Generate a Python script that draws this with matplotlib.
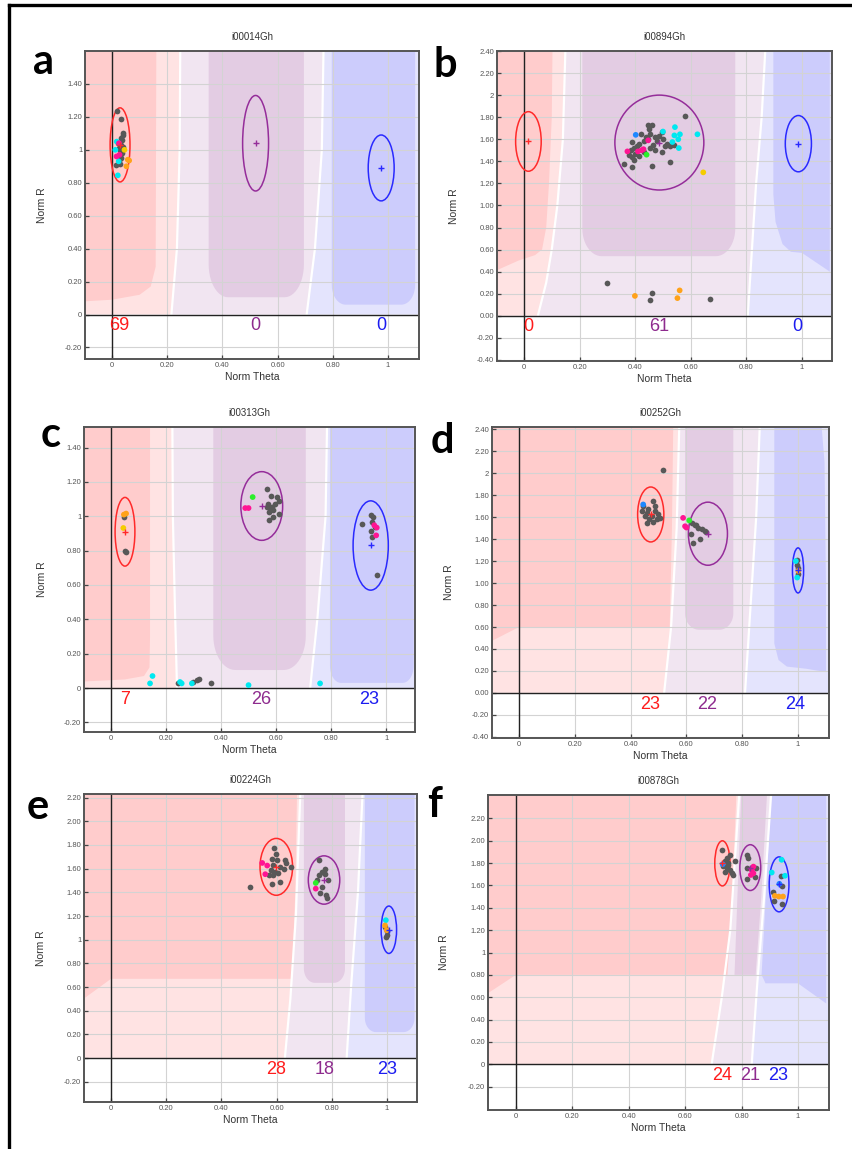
import numpy as np
import matplotlib
matplotlib.use("Agg")
import matplotlib.pyplot as plt
from matplotlib.patches import Polygon, Ellipse
from matplotlib.lines import Line2D

plt.rcParams['font.family'] = ['Liberation Sans', 'DejaVu Sans']

# ---------------- data ----------------
letters = ['a', 'b', 'c', 'd', 'e', 'f']
titles = ['i00014Gh', 'i00894Gh', 'i00313Gh', 'i00252Gh', 'i00224Gh', 'i00878Gh']

# cluster centres (theta, R) and half widths for AA / AB / BB
a_ell = [(0.029, 1.03, 0.036, 0.225), (0.52, 1.04, 0.047, 0.29), (0.975, 0.89, 0.047, 0.20)]
b_ell = [(0.016, 1.58, 0.046, 0.27), (0.487, 1.57, 0.16, 0.43), (0.987, 1.56, 0.047, 0.255)]
c_ell = [(0.051, 0.91, 0.036, 0.20), (0.548, 1.06, 0.076, 0.20), (0.944, 0.83, 0.064, 0.26)]
d_ell = [(0.472, 1.624, 0.047, 0.25), (0.677, 1.449, 0.07, 0.287), (1.0, 1.115, 0.02, 0.205)]
e_ell = [(0.599, 1.615, 0.059, 0.24), (0.772, 1.504, 0.057, 0.204), (1.007, 1.084, 0.028, 0.20)]
f_ell = [(0.732, 1.798, 0.027, 0.202), (0.831, 1.76, 0.037, 0.205), (0.933, 1.61, 0.035, 0.246)]

a_counts = [69, 0, 0]
b_counts = [0, 61, 0]
c_counts = [7, 26, 23]
d_counts = [23, 22, 24]
e_counts = [28, 18, 23]
f_counts = [24, 21, 23]
a_count_x = [0.025, 0.52, 0.975]
b_count_x = [0.015, 0.485, 0.985]
c_count_x = [0.05, 0.545, 0.94]
d_count_x = [0.47, 0.675, 0.99]
e_count_x = [0.60, 0.775, 1.0]
f_count_x = [0.732, 0.83, 0.93]

# grey samples
a_gray = [(0.019, 1.238), (0.034, 1.19), (0.040, 1.10), (0.038, 1.09), (0.031, 1.07), (0.036, 1.06),
          (0.022, 1.04), (0.033, 1.03), (0.024, 1.01), (0.030, 1.00), (0.036, 0.98), (0.027, 0.96),
          (0.033, 0.95), (0.025, 0.93), (0.016, 0.91), (0.030, 0.915), (0.040, 1.02)]
b_gray = [(0.580, 1.81), (0.387, 1.575), (0.447, 1.73), (0.462, 1.73), (0.420, 1.65), (0.455, 1.65),
          (0.440, 1.62), (0.445, 1.60), (0.430, 1.58), (0.415, 1.56), (0.405, 1.54), (0.395, 1.52),
          (0.385, 1.50), (0.400, 1.47), (0.390, 1.44), (0.395, 1.41), (0.378, 1.46), (0.361, 1.373),
          (0.390, 1.35), (0.460, 1.36), (0.525, 1.39), (0.484, 1.63), (0.495, 1.48), (0.507, 1.54),
          (0.525, 1.54), (0.495, 1.67), (0.470, 1.62), (0.480, 1.58), (0.465, 1.55), (0.455, 1.52),
          (0.470, 1.50), (0.500, 1.60), (0.515, 1.56), (0.430, 1.48), (0.412, 1.45), (0.450, 1.69),
          (0.540, 1.55), (0.300, 0.30), (0.460, 0.21), (0.453, 0.14), (0.668, 0.155)]
c_gray = [(0.047, 0.997), (0.055, 0.793), (0.052, 0.80), (0.566, 1.16), (0.581, 1.12), (0.603, 1.11),
          (0.609, 1.09), (0.572, 1.07), (0.584, 1.057), (0.590, 1.038), (0.576, 1.025), (0.609, 1.015),
          (0.588, 0.997), (0.576, 0.976), (0.596, 1.07), (0.566, 1.054), (0.580, 1.04), (0.912, 0.953),
          (0.944, 1.01), (0.951, 0.997), (0.948, 0.968), (0.960, 0.94), (0.944, 0.912), (0.948, 0.882),
          (0.966, 0.657), (0.242, 0.027), (0.299, 0.036), (0.311, 0.049), (0.320, 0.055), (0.364, 0.027)]
d_gray = [(0.515, 2.025), (0.445, 1.70), (0.481, 1.75), (0.463, 1.67), (0.487, 1.66), (0.499, 1.63),
          (0.451, 1.61), (0.475, 1.61), (0.493, 1.58), (0.457, 1.55), (0.479, 1.553), (0.505, 1.59),
          (0.439, 1.655), (0.466, 1.58), (0.487, 1.70), (0.460, 1.64), (0.620, 1.55), (0.631, 1.524),
          (0.643, 1.50), (0.655, 1.488), (0.667, 1.47), (0.617, 1.45), (0.625, 1.365), (0.647, 1.40),
          (0.670, 1.46), (0.636, 1.53), (0.995, 1.213), (1.001, 1.14), (0.999, 1.079), (0.997, 1.16)]
e_gray = [(0.591, 1.778), (0.598, 1.727), (0.582, 1.685), (0.600, 1.67), (0.630, 1.67), (0.634, 1.65),
          (0.651, 1.616), (0.627, 1.594), (0.612, 1.617), (0.588, 1.628), (0.578, 1.587), (0.594, 1.573),
          (0.574, 1.545), (0.612, 1.487), (0.582, 1.474), (0.504, 1.445), (0.588, 1.545), (0.606, 1.56),
          (0.755, 1.676), (0.776, 1.60), (0.765, 1.572), (0.753, 1.544), (0.776, 1.558), (0.788, 1.502),
          (0.765, 1.446), (0.757, 1.395), (0.778, 1.375), (0.783, 1.355), (0.748, 1.506),
          (0.993, 1.107), (0.999, 1.07), (1.001, 1.04), (0.997, 1.02)]
f_gray = [(0.729, 1.919), (0.759, 1.875), (0.747, 1.845), (0.741, 1.815), (0.753, 1.80), (0.776, 1.815),
          (0.735, 1.77), (0.747, 1.754), (0.759, 1.739), (0.765, 1.709), (0.741, 1.724), (0.771, 1.694),
          (0.753, 1.785), (0.821, 1.874), (0.823, 1.844), (0.818, 1.754), (0.821, 1.656), (0.848, 1.68),
          (0.851, 1.754), (0.940, 1.687), (0.942, 1.597), (0.912, 1.546), (0.915, 1.462), (0.943, 1.432)]

# coloured samples (theta, R, colour)
a_col = [(0.017, 1.05, 'cyan'), (0.012, 1.00, 'cyan'), (0.024, 0.93, 'cyan'), (0.021, 0.845, 'cyan'),
         (0.025, 1.04, 'pink'), (0.016, 0.96, 'pink'), (0.027, 0.97, 'pink'),
         (0.062, 0.935, 'orange'), (0.052, 0.90, 'orange'), (0.057, 0.94, 'orange'), (0.045, 1.00, 'gold')]
b_col = [(0.500, 1.67, 'cyan'), (0.543, 1.71, 'cyan'), (0.541, 1.635, 'cyan'), (0.561, 1.645, 'cyan'),
         (0.555, 1.60, 'cyan'), (0.534, 1.575, 'cyan'), (0.557, 1.52, 'cyan'), (0.624, 1.645, 'cyan'),
         (0.402, 1.64, 'blue'), (0.372, 1.49, 'pink'), (0.410, 1.49, 'pink'), (0.423, 1.50, 'pink'),
         (0.447, 1.59, 'pink'), (0.430, 1.51, 'pink'), (0.441, 1.46, 'green'), (0.645, 1.30, 'gold'),
         (0.399, 0.18, 'orange'), (0.560, 0.23, 'orange'), (0.552, 0.16, 'orange')]
c_col = [(0.055, 1.016, 'orange'), (0.047, 1.01, 'orange'), (0.045, 0.932, 'gold'),
         (0.515, 1.112, 'green'), (0.488, 1.048, 'pink'), (0.500, 1.048, 'pink'),
         (0.957, 0.948, 'pink'), (0.966, 0.934, 'pink'), (0.964, 0.889, 'pink'),
         (0.151, 0.07, 'cyan'), (0.142, 0.027, 'cyan'), (0.251, 0.035, 'cyan'), (0.257, 0.027, 'cyan'),
         (0.294, 0.027, 'cyan'), (0.500, 0.017, 'cyan'), (0.760, 0.027, 'cyan')]
d_col = [(0.445, 1.715, 'blue'), (0.588, 1.593, 'pink'), (0.595, 1.517, 'pink'), (0.600, 1.505, 'pink'),
         (0.610, 1.57, 'green'), (0.992, 1.20, 'cyan'), (0.997, 1.05, 'cyan'), (1.001, 1.11, 'orange')]
e_col = [(0.548, 1.648, 'pink'), (0.566, 1.626, 'pink'), (0.559, 1.553, 'pink'),
         (0.742, 1.479, 'green'), (0.742, 1.431, 'pink'),
         (0.996, 1.165, 'cyan'), (0.993, 1.12, 'orange'), (0.999, 1.08, 'orange')]
f_col = [(0.733, 1.79, 'blue'), (0.842, 1.769, 'pink'), (0.836, 1.739, 'pink'), (0.842, 1.709, 'pink'),
         (0.833, 1.694, 'pink'), (0.942, 1.83, 'cyan'), (0.907, 1.716, 'cyan'), (0.954, 1.687, 'cyan'),
         (0.934, 1.615, 'blue'), (0.918, 1.507, 'orange'), (0.932, 1.501, 'orange'), (0.947, 1.501, 'orange')]

# genotype zone borders (bottom to top) and dark cluster regions
a_b1 = [(0.215, 0), (0.235, 0.4), (0.245, 1.0), (0.25, 2.5)]
a_b2 = [(0.705, 0), (0.735, 0.4), (0.76, 1.0), (0.775, 2.5)]
b_b1 = [(0.05, 0), (0.08, 0.3), (0.10, 0.6), (0.12, 1.0), (0.14, 1.6), (0.15, 2.5)]
b_b2 = [(0.805, 0), (0.82, 0.6), (0.835, 1.2), (0.855, 1.8), (0.87, 2.5)]
c_b1 = [(0.24, 0), (0.232, 0.5), (0.225, 1.0), (0.22, 2.5)]
c_b2 = [(0.724, 0), (0.75, 0.4), (0.78, 1.0), (0.795, 2.5)]
d_b1 = [(0.52, 0), (0.545, 0.6), (0.565, 1.5), (0.575, 2.5)]
d_b2 = [(0.81, 0), (0.83, 0.8), (0.85, 1.6), (0.864, 2.5)]
e_b1 = [(0.63, 0), (0.65, 0.5), (0.67, 1.2), (0.69, 2.5)]
e_b2 = [(0.854, 0), (0.87, 0.6), (0.895, 1.4), (0.917, 2.5)]
f_b1 = [(0.694, 0), (0.73, 0.6), (0.76, 1.2), (0.794, 2.5)]
f_b2 = [(0.836, 0), (0.855, 0.7), (0.88, 1.5), (0.907, 2.5)]

a_red = [(-0.2, 0.07), (0.0, 0.09), (0.10, 0.12), (0.14, 0.17), (0.158, 0.29), (0.162, 2.5), (-0.2, 2.5)]
b_red = [(-0.2, 0.35), (-0.1, 0.41), (-0.02, 0.50), (0.04, 0.55), (0.065, 0.6), (0.08, 0.8), (0.09, 1.2),
         (0.10, 1.8), (0.103, 2.5), (-0.2, 2.5)]
c_red = [(-0.2, 0.03), (0.05, 0.05), (0.12, 0.07), (0.14, 0.12), (0.142, 0.3), (0.142, 2.5), (-0.2, 2.5)]
d_red = [(-0.2, 0.40), (-0.1, 0.47), (0.0, 0.6), (0.54, 0.6), (0.548, 1.5), (0.553, 2.5), (-0.2, 2.5)]
e_red = [(-0.2, 0.42), (-0.1, 0.5), (0.0, 0.67), (0.655, 0.67), (0.668, 1.4), (0.676, 2.5), (-0.2, 2.5)]
f_red = [(-0.2, 0.55), (-0.1, 0.634), (0.0, 0.8), (0.75, 0.8), (0.765, 1.4), (0.783, 2.5), (-0.2, 2.5)]

a_pur = (0.35, 0.695, 0.105, 0.07, 0.2)
b_pur = (0.21, 0.76, 0.54, 0.07, 0.25)
c_pur = (0.372, 0.708, 0.105, 0.08, 0.2)
d_pur = (0.595, 0.768, 0.575, 0.05, 0.15)
e_pur = (0.699, 0.848, 0.636, 0.04, 0.12)
f_pur = [(0.80, 2.5), (0.775, 0.8), (0.85, 0.8), (0.87, 1.5), (0.892, 2.5)]

a_blu = (0.796, 1.098, 0.06, 0.05, 0.12)
b_blu = [(0.897, 2.5), (0.897, 1.1), (0.905, 0.85), (0.93, 0.65), (0.96, 0.58), (1.0, 0.57),
         (1.1, 0.40), (1.1, 2.5)]
c_blu = (0.796, 1.1, 0.03, 0.04, 0.1)
d_blu = [(0.915, 2.5), (0.915, 0.45), (0.93, 0.3), (0.96, 0.24), (1.03, 0.22), (1.1, 0.19),
         (1.1, 1.0), (1.095, 2.1), (1.082, 2.5)]
e_blu = (0.92, 1.1, 0.22, 0.04, 0.12)
f_blu = [(0.907, 2.5), (0.871, 0.8), (0.885, 0.724), (1.0, 0.724), (1.1, 0.544), (1.1, 2.5)]

# axes limits and y tick labels
xlims = [(-0.098, 1.112), (-0.097, 1.108), (-0.098, 1.105), (-0.097, 1.111), (-0.098, 1.109), (-0.099, 1.11)]
ylims = [(-0.27, 1.60), (-0.41, 2.40), (-0.256, 1.52), (-0.41, 2.42), (-0.37, 2.23), (-0.41, 2.41)]
a_yt = ['1.40', '1.20', '1', '0.80', '0.60', '0.40', '0.20', '0', '-0.20']
b_yt = ['2.40', '2.20', '2', '1.80', '1.60', '1.40', '1.20', '1.00', '0.80', '0.60', '0.40', '0.20',
        '0.00', '-0.20', '-0.40']
c_yt = a_yt
d_yt = b_yt
e_yt = ['2.20', '2.00', '1.80', '1.60', '1.40', '1.20', '1', '0.80', '0.60', '0.40', '0.20', '0', '-0.20']
f_yt = e_yt
x_ticks = [0, 0.2, 0.4, 0.6, 0.8, 1]
x_tick_labels = ['0', '0.20', '0.40', '0.60', '0.80', '1']

# ---------------- styles ----------------
W, H = 852, 1149
boxes = [(85, 419, 51, 359), (497, 832, 51, 361), (84, 415, 427, 732),
         (492, 829, 427, 738), (84, 417, 794, 1102), (488, 829, 795, 1110)]
letter_pos = [(43, 74), (445, 77), (51, 447), (442, 453), (38, 819), (435, 817)]
light = ['#ffe3e3', '#f1e5f1', '#e4e4fd']
dark = ['#ffcccc', '#e3cce3', '#ccccfc']
ell_col = ['#ff2a2a', '#952d9a', '#2a2aff']
cnt_col = ['#ff1c1c', '#8e2b8e', '#1c1cf0']
pt_col = {'cyan': '#00e8f0', 'pink': '#ff1493', 'orange': '#ffa21a', 'gold': '#f5cc00',
          'green': '#2bee2b', 'blue': '#1e88ff'}


def rounded_box(x0, x1, yb, rx, ry, yt=2.5):
    t = np.linspace(0, np.pi / 2, 14)
    left = [(x0 + rx - rx * np.cos(a), yb + ry - ry * np.sin(a)) for a in t]
    right = [(x1 - rx + rx * np.sin(a), yb + ry - ry * np.cos(a)) for a in t]
    return [(x0, yt)] + left + right + [(x1, yt)]


def region(r):
    return rounded_box(*r) if isinstance(r, tuple) else r


def panel(i, b1, b2, red, pur, blu, ell, counts, count_x, gray, col, yt):
    l, r, t, btm = boxes[i]
    ax = fig.add_axes([l / W, 1 - btm / H, (r - l) / W, (btm - t) / H])
    ax.set_xlim(*xlims[i])
    ax.set_ylim(*ylims[i])

    # zones
    z1 = [(-0.2, 0)] + b1 + [(-0.2, 2.5)]
    z2 = b1 + b2[::-1]
    z3 = b2 + [(1.2, 2.5), (1.2, 0)]
    for poly, c in zip([z1, z2, z3], light):
        ax.add_patch(Polygon(poly, closed=True, fc=c, ec='none', zorder=1))
    for reg, c in zip([red, pur, blu], dark):
        ax.add_patch(Polygon(region(reg), closed=True, fc=c, ec='none', zorder=1.1))
    for bd in (b1, b2):
        ax.plot([p[0] for p in bd], [p[1] for p in bd], color='white', lw=1.6, zorder=1.2)

    ax.set_axisbelow('line')
    ax.grid(True, color='#d3d3d3', lw=0.8)
    ax.axhline(0, color='#222222', lw=1.0, zorder=2)
    ax.axvline(0, color='#222222', lw=1.0, zorder=2)

    for (cx, cy, hw, hh), c in zip(ell, ell_col):
        ax.add_patch(Ellipse((cx, cy), 2 * hw, 2 * hh, fill=False, ec=c, lw=1.1, zorder=3))

    ax.scatter([p[0] for p in gray], [p[1] for p in gray], s=17, c='#585858', lw=0, zorder=4)
    ax.scatter([p[0] for p in col], [p[1] for p in col], s=17,
               c=[pt_col[p[2]] for p in col], lw=0, zorder=4.5)
    for (cx, cy, hw, hh), c in zip(ell, ell_col):
        ax.plot(cx, cy, '+', color=c, ms=4, mew=1, zorder=5)

    for n, x, c in zip(counts, count_x, cnt_col):
        ax.annotate(str(n), (x, 0), xytext=(0, -8), textcoords='offset points',
                    ha='center', va='center', fontsize=13, color=c, zorder=6)

    yv = [float(s) for s in yt]
    ax.set_yticks(yv)
    ax.set_yticklabels(yt)
    ax.set_xticks(x_ticks)
    ax.set_xticklabels(x_tick_labels)
    ax.tick_params(direction='in', length=3, width=0.9, color='#444444', labelsize=5.5,
                   labelcolor='#555555', pad=2)
    for s in ax.spines.values():
        s.set_color('#555555')
        s.set_linewidth(1.4)

    ax.text(0.5, 1 + 14 / (btm - t), titles[i], transform=ax.transAxes, ha='center', va='center',
            fontsize=7, color='#333333')
    ax.text(0.5, -18 / (btm - t), 'Norm Theta', transform=ax.transAxes, ha='center', va='center',
            fontsize=7.5, color='#333333')
    ax.text(-0.128, 0.5, 'Norm R', transform=ax.transAxes, ha='center', va='center',
            rotation=90, fontsize=7.5, color='#333333')

    lx, ly = letter_pos[i]
    fig.text(lx / W, 1 - ly / H, letters[i], ha='center', va='baseline', fontsize=30,
             fontweight='bold', family=['Lato', 'DejaVu Sans'], color='black')


fig = plt.figure(figsize=(W / 100, H / 100), dpi=100)

panel(0, a_b1, a_b2, a_red, a_pur, a_blu, a_ell, a_counts, a_count_x, a_gray, a_col, a_yt)
panel(1, b_b1, b_b2, b_red, b_pur, b_blu, b_ell, b_counts, b_count_x, b_gray, b_col, b_yt)
panel(2, c_b1, c_b2, c_red, c_pur, c_blu, c_ell, c_counts, c_count_x, c_gray, c_col, c_yt)
panel(3, d_b1, d_b2, d_red, d_pur, d_blu, d_ell, d_counts, d_count_x, d_gray, d_col, d_yt)
panel(4, e_b1, e_b2, e_red, e_pur, e_blu, e_ell, e_counts, e_count_x, e_gray, e_col, e_yt)
panel(5, f_b1, f_b2, f_red, f_pur, f_blu, f_ell, f_counts, f_count_x, f_gray, f_col, f_yt)

# outer frame (top and left edges only)
fig.add_artist(Line2D([8.5 / W, 1], [1 - 5 / H, 1 - 5 / H], transform=fig.transFigure,
                      color='black', lw=2.4))
fig.add_artist(Line2D([8.5 / W, 8.5 / W], [0, 1 - 5 / H], transform=fig.transFigure,
                      color='black', lw=2.4))

fig.savefig('out.png', dpi=100)
